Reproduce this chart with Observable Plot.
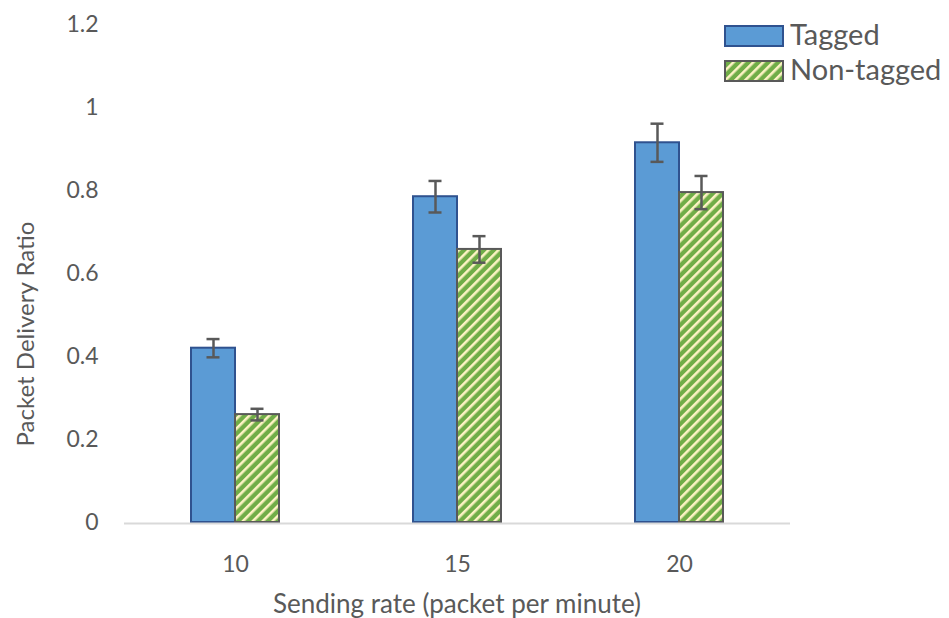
<!DOCTYPE html>
<html>
<head>
<meta charset="utf-8">
<script src="https://cdn.jsdelivr.net/npm/d3@7"></script>
<script src="https://cdn.jsdelivr.net/npm/@observablehq/plot@0.6"></script>
<style>
  body { margin: 0; background: #fff; }
  #chart { position: relative; width: 949px; height: 618px; overflow: hidden; font-family: Lato, "Open Sans", sans-serif; color: #595959; }
  #chart > svg { position: absolute; left: 0; top: 0; }
  #legend { position: absolute; left: 724px; top: 18px; }
  .item { display: flex; align-items: center; height: 35px; font-size: 29px; line-height: 1; }
  .item span { position: relative; top: -2px; }
  .item svg { margin-right: 6px; display: block; }
  #ylabel { position: absolute; left: 25px; top: 334px; line-height: 1; transform: translate(-50%, -50%) rotate(-90deg); white-space: nowrap; font-size: 24px; }
  #xlabel { position: absolute; left: 457px; top: 603px; line-height: 1; transform: translate(-50%, -50%); white-space: nowrap; font-size: 26px; }
</style>
</head>
<body>
<div id="chart"></div>
<script>
// ---- data ----
const categories = ["10", "15", "20"];
const seriesNames = ["Tagged", "Non-tagged"];
const taggedValues = [0.42, 0.785, 0.915];
const taggedErrors = [0.022, 0.038, 0.046];
const nonTaggedValues = [0.26, 0.658, 0.795];
const nonTaggedErrors = [0.014, 0.032, 0.04];
const yTicks = [0, 0.2, 0.4, 0.6, 0.8, 1, 1.2];
const xLabel = "Sending rate (packet per minute)";
const yLabel = "Packet Delivery Ratio";

const taggedRows = categories.map((c, i) => ({cat: c, series: seriesNames[0], value: taggedValues[i], err: taggedErrors[i]}));
const nonTaggedRows = categories.map((c, i) => ({cat: c, series: seriesNames[1], value: nonTaggedValues[i], err: nonTaggedErrors[i]}));
const allRows = taggedRows.concat(nonTaggedRows);

const errStroke = "#595959";

const plot = Plot.plot({
  width: 949,
  height: 618,
  marginLeft: 124,
  marginRight: 159,
  marginTop: 24,
  marginBottom: 96,
  style: {fontFamily: "Lato, 'Open Sans', sans-serif", fontSize: "23px", color: "#595959", background: "transparent", overflow: "visible"},
  fx: {domain: categories, padding: 0, tickSize: 0, tickPadding: 33, label: null},
  x: {domain: seriesNames, paddingInner: 0, paddingOuter: 1.4667, axis: null},
  y: {domain: [0, 1.2], ticks: yTicks, tickFormat: d => String(d), tickSize: 0, tickPadding: 26, label: null},
  marks: [
    Plot.barY(taggedRows, {fx: "cat", x: "series", y: "value", fill: "#5B9BD5", stroke: "#2F528F", strokeWidth: 2}),
    Plot.barY(nonTaggedRows, {fx: "cat", x: "series", y: "value", fill: "url(#stripes)", stroke: "#595959", strokeWidth: 2}),
    Plot.ruleY([0], {stroke: "#D9D9D9", strokeWidth: 2, dy: 1}),
    Plot.ruleX(allRows, {fx: "cat", x: "series", y1: d => d.value - d.err, y2: d => d.value + d.err, stroke: errStroke, strokeWidth: 2.5}),
    Plot.tickY(allRows, {fx: "cat", x: "series", y: d => d.value + d.err, stroke: errStroke, strokeWidth: 2.5, insetLeft: 15.5, insetRight: 15.5}),
    Plot.tickY(allRows, {fx: "cat", x: "series", y: d => d.value - d.err, stroke: errStroke, strokeWidth: 2.5, insetLeft: 15.5, insetRight: 15.5})
  ]
});

const patternDef = (id) => `<pattern id="${id}" patternUnits="userSpaceOnUse" width="7" height="7" patternTransform="rotate(45)"><rect width="7" height="7" fill="#70AD47"/><rect width="2.6" height="7" fill="#FDF3C4"/></pattern>`;
d3.select(plot).insert("defs", ":first-child").html(patternDef("stripes"));

const chart = document.getElementById("chart");
chart.appendChild(plot);

// x-axis title
const xl = document.createElement("div");
xl.id = "xlabel";
xl.textContent = xLabel;
chart.appendChild(xl);

// y-axis title
const yl = document.createElement("div");
yl.id = "ylabel";
yl.textContent = yLabel;
chart.appendChild(yl);

// legend
const legend = document.createElement("div");
legend.id = "legend";
const swatchFills = ["#5B9BD5", "url(#stripesLegend)"];
const swatchStrokes = ["#2F528F", "#595959"];
seriesNames.forEach((name, i) => {
  const item = document.createElement("div");
  item.className = "item";
  item.innerHTML = `<svg width="60" height="22">${i === 1 ? `<defs>${patternDef("stripesLegend")}</defs>` : ""}<rect x="1" y="1" width="58" height="20" fill="${swatchFills[i]}" stroke="${swatchStrokes[i]}" stroke-width="2"/></svg><span>${name}</span>`;
  legend.appendChild(item);
});
chart.appendChild(legend);
</script>
</body>
</html>
